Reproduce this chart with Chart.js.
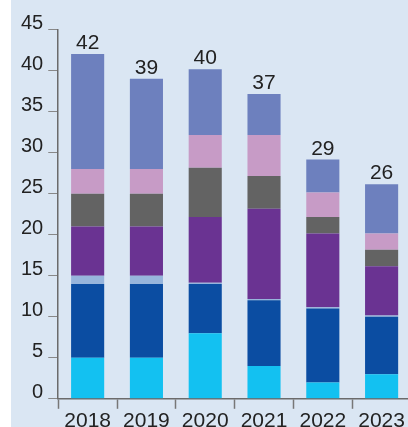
<!DOCTYPE html>
<html>
<head>
<meta charset="utf-8">
<script src="https://cdn.jsdelivr.net/npm/chart.js@4.4.0/dist/chart.umd.min.js"></script>
<style>
  html, body { margin: 0; background: #fff; overflow: hidden; }
  .wrap { position: absolute; left: 11px; top: 0; width: 400px; height: 440px; background: #dae6f3; }
</style>
</head>
<body>
<div class="wrap"><canvas id="myChart"></canvas></div>
<script>
// --------------------------------------------------
const years = ["2018", "2019", "2020", "2021", "2022", "2023"];

// stack segments, bottom to top
const cyan = [5, 5, 8, 4, 2, 3];
const darkBlue = [9, 9, 6, 8, 9, 7];
const lightSteel = [1, 1, 0.15, 0.15, 0.15, 0.15];
const purple = [6, 6, 8, 11, 9, 6];
const grey = [4, 4, 6, 4, 2, 2];
const pink = [3, 3, 4, 5, 3, 2];
const periwinkle = [14, 11, 8, 5, 4, 6];

const yMax = 45;
const yStep = 5;

const FONT = "'Liberation Sans', Arial, Helvetica, sans-serif";

// --------------------------------------------------
// total above each stack
const totalsLabels = {
  id: "totalsLabels",
  afterDatasetsDraw(chart) {
    const ctx = chart.ctx;
    const meta = chart.getDatasetMeta(chart.data.datasets.length - 1);
    ctx.save();
    ctx.font = "21px " + FONT;
    ctx.fillStyle = "#222";
    ctx.textAlign = "center";
    ctx.textBaseline = "alphabetic";
    meta.data.forEach((bar, i) => {
      const total = chart.data.datasets.reduce((s, ds) => s + ds.data[i], 0);
      ctx.fillText(String(Math.round(total)), bar.x, bar.y - 5);
    });
    ctx.restore();
  },
};

function series(data, color) {
  return {
    data: data,
    backgroundColor: color,
    borderWidth: 0,
    categoryPercentage: 1,
    barPercentage: 0.563,
  };
}

var ctx = document.getElementById("myChart").getContext("2d");
var myChart = new Chart(ctx, {
  type: "bar",
  data: {
    labels: years,
    datasets: [
      series(cyan, "#13c1f1"),
      series(darkBlue, "#0b4da2"),
      series(lightSteel, "#97b5dc"),
      series(purple, "#6a3392"),
      series(grey, "#636363"),
      series(pink, "#c79bc6"),
      series(periwinkle, "#6d80be"),
    ],
  },
  options: {
    responsive: true,
    maintainAspectRatio: false,
    animation: false,
    layout: {
      padding: { left: 5, top: 29.5, right: 0, bottom: 6 },
    },
    plugins: {
      legend: { display: false },
      tooltip: { enabled: false },
    },
    scales: {
      x: {
        stacked: true,
        grid: {
          offset: true,
          drawOnChartArea: false,
          tickLength: 10,
          tickColor: "#777",
          tickWidth: 1.5,
        },
        border: { color: "#6b6b6b", width: 1.5 },
        ticks: {
          color: "#222",
          padding: 0,
          font: { family: FONT, size: 21 },
        },
      },
      y: {
        stacked: true,
        min: 0,
        max: yMax,
        grid: {
          drawOnChartArea: false,
          tickLength: 10,
          tickColor: "#888",
          tickWidth: 1,
        },
        border: { color: "#6b6b6b", width: 1.5 },
        ticks: {
          stepSize: yStep,
          color: "#222",
          padding: 5,
          labelOffset: -6,
          font: { family: FONT, size: 20 },
        },
      },
    },
  },
  plugins: [totalsLabels],
});
</script>
</body>
</html>
